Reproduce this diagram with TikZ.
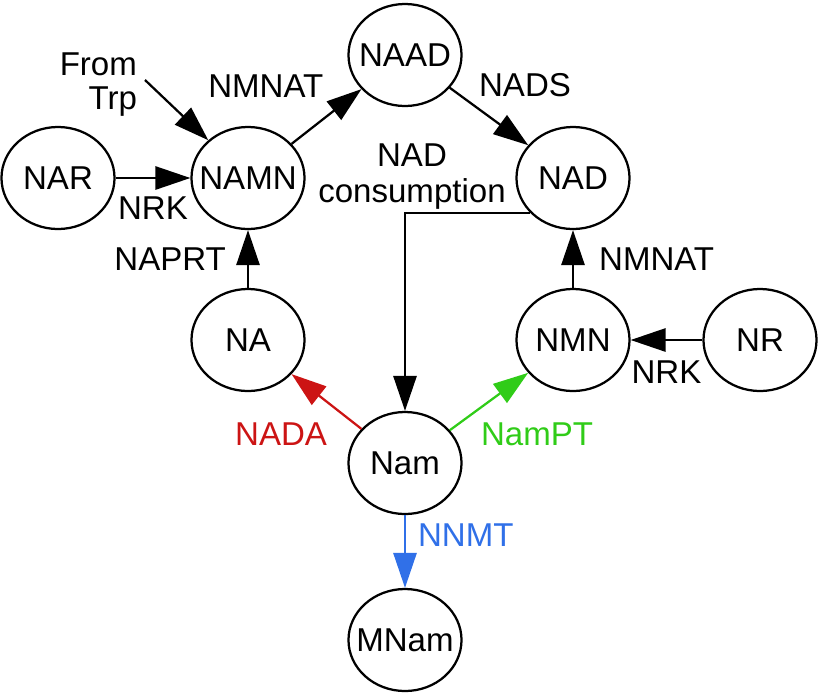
\documentclass[tikz,border=0pt]{standalone}
\usepackage{fontspec}
\setmainfont{Liberation Sans}
\usetikzlibrary{arrows.meta, positioning, shapes.geometric}

\definecolor{nadared}{RGB}{204,20,20}
\definecolor{namptgreen}{RGB}{48,204,24}
\definecolor{nnmtblue}{RGB}{48,112,232}

\begin{document}
\begin{tikzpicture}[
    x=0.025cm, y=-0.025cm,
    line width=1.6pt,
    font=\fontsize{23.5}{27}\selectfont,
    >={Triangle[length=8.75mm, width=5.8mm]},
    met/.style={ellipse, draw, minimum width=2.825cm, minimum height=2.55cm, inner sep=0pt},
    lab/.style={inner sep=0pt}
]

\useasboundingbox (0,0) rectangle (820,693);

% metabolites
\node[met, label=center:NAAD] (naad) at (405,55) {};
\node[met, label=center:NAR]  (nar)  at (58,178) {};
\node[met, label=center:NAMN] (namn) at (248,178) {};
\node[met, label=center:NAD]  (nad)  at (573,178) {};
\node[met, label=center:NA]   (na)   at (248,340) {};
\node[met, label=center:NMN]  (nmn)  at (573,340) {};
\node[met, label=center:NR]   (nr)   at (760,340) {};
\node[met, label=center:Nam]  (nam)  at (405,463) {};
\node[met, label=center:MNam] (mnam) at (405,640) {};

\node[lab, align=right, anchor=north east, font=\fontsize{23.5}{24}\selectfont] (from) at (138,52) {From\\Trp};
\coordinate (trp) at (145,80);
\node[lab, align=center, anchor=north, font=\fontsize{23.5}{25}\selectfont] (nadcons) at (412,143) {NAD\\consumption};

\path[->]
    (trp) edge (namn)
    (nar) edge node [lab, anchor=north, yshift=-4.5mm] (nrka) {NRK} (namn)
    (namn) edge node [lab, anchor=south east, xshift=-0.5mm, yshift=4.5mm] (nmnata) {NMNAT} (naad)
    (naad) edge node [lab, anchor=south west, xshift=-2.75mm, yshift=4.6mm] (nads) {NADS} (nad)
    (na) edge node [lab, anchor=east, xshift=-5.25mm] (naprt) {NAPRT} (namn)
    (nmn) edge node [lab, anchor=west, xshift=6.25mm] (nmnatb) {NMNAT} (nad)
    (nr) edge node [lab, anchor=north, yshift=-5mm] (nrkb) {NRK} (nmn)
    ;

\draw[->] (nad.219) -| (nam.north);

\draw[->, nadared] (nam) -- node [lab, anchor=north east, xshift=0.4mm, yshift=-5.1mm] (nada) {NADA} (na);
\draw[->, namptgreen] (nam) -- node [lab, anchor=north west, xshift=-2.25mm, yshift=-5.1mm] (nampt) {NamPT} (nmn);
\draw[->, nnmtblue] (nam) -- node [lab, anchor=west, xshift=3mm, yshift=4mm] (nnmt) {NNMT} (mnam);

\end{tikzpicture}
\end{document}
